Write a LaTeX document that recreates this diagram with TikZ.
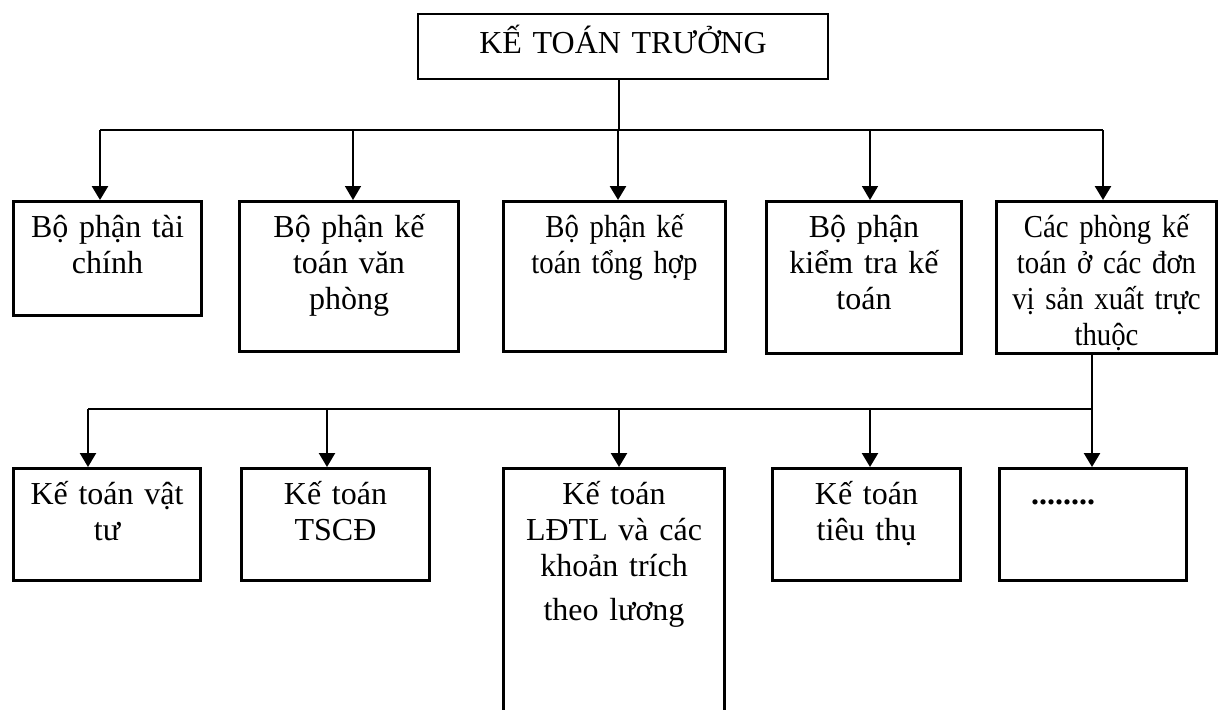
\documentclass[tikz,border=0pt]{standalone}
\usepackage{fontspec}
\setmainfont{Liberation Serif}
\newfontfamily\narrowfont{Liberation Serif}[FakeStretch=0.9]
\usetikzlibrary{arrows.meta}

\begin{document}
\begin{tikzpicture}[x=0.5pt,y=-0.5pt]
   \tikzstyle{every node}=[inner sep=0pt, align=center, font=\fontsize{16pt}{18pt}\selectfont]
   \tikzstyle{unit}=[draw, line width=1.5pt, anchor=north west, text height=17.75pt]
   \tikzstyle{head}=[draw, line width=0.8pt, anchor=north west, text height=19.6pt]
   \tikzstyle{link}=[-{Triangle[width=8pt,length=7pt]}]

   \useasboundingbox (0,0) rectangle (1226,709);

\node[head, text width=205.2pt, text depth=13.1pt] (chief) at (417,13) {KẾ TOÁN TRƯỞNG};

% level 1
\node[unit, text width=94pt, text depth=39.25pt] (finance) at (12,200) {Bộ phận tài\\chính};
\node[unit, text width=109.5pt, text depth=57.25pt] (office) at (238,200) {Bộ phận kế\\toán văn\\phòng};
\node[unit, text width=111pt, text depth=57.25pt, font=\narrowfont\fontsize{16pt}{18pt}\selectfont] (general) at (502,200) {Bộ phận kế\\toán tổng hợp};
\node[unit, text width=97.5pt, text depth=58.25pt] (audit) at (765,200) {Bộ phận\\kiểm tra kế\\toán};
\node[unit, text width=110pt, text depth=58.25pt, font=\narrowfont\fontsize{16pt}{18pt}\selectfont] (units) at (995,200) {Các phòng kế\\toán ở các đơn\\vị sản xuất trực\\thuộc};

% level 2
\node[unit, text width=93.5pt, text depth=38.25pt] (goods) at (12,467) {Kế toán vật\\tư};
\node[unit, text width=94pt, text depth=38.25pt] (assets) at (240,467) {Kế toán\\TSCĐ};
\node[unit, text width=110.5pt, text depth=110pt] (wages) at (502,467) {Kế toán\\LĐTL và các\\khoản trích\\[4pt]theo lương};
\node[unit, text width=94pt, text depth=38.25pt] (sales) at (771,467) {Kế toán\\tiêu thụ};
\node[unit, text width=93.5pt, text depth=38.25pt] (more) at (998,467) {\makebox[62pt][l]{\textbf{........}}};

\coordinate (bus1) at (0,130);
\coordinate (bus2) at (0,409);

\draw[line width=0.7pt] ([xshift=-2pt]chief.south) -- ([xshift=-2pt]chief.south |- bus1);
\draw[line width=0.7pt] ([xshift=-3.75pt]finance.north |- bus1) -- ([xshift=-1.75pt]units.north |- bus1);
\draw[link, line width=1.3pt] ([xshift=-3.75pt]finance.north |- bus1) -- ([xshift=-3.75pt]finance.north);
\draw[link, line width=0.8pt] ([xshift=2pt]office.north |- bus1) -- ([xshift=2pt]office.north);
\draw[link, line width=1.3pt] ([xshift=1.75pt]general.north |- bus1) -- ([xshift=1.75pt]general.north);
\draw[link, line width=0.8pt] ([xshift=3pt]audit.north |- bus1) -- ([xshift=3pt]audit.north);
\draw[link, line width=1.3pt] ([xshift=-1.75pt]units.north |- bus1) -- ([xshift=-1.75pt]units.north);

\draw[link, line width=1.2pt] ([xshift=-7.25pt]units.south) -- ([xshift=-7.25pt]units.south |- more.north);
\draw[line width=1.2pt] ([xshift=-9.5pt]goods.north |- bus2) -- ([xshift=-7.25pt]units.south |- bus2);
\draw[link, line width=1.2pt] ([xshift=-9.5pt]goods.north |- bus2) -- ([xshift=-9.5pt]goods.north);
\draw[link, line width=1.2pt] ([xshift=-4.25pt]assets.north |- bus2) -- ([xshift=-4.25pt]assets.north);
\draw[link, line width=1.2pt] ([xshift=2.5pt]wages.north |- bus2) -- ([xshift=2.5pt]wages.north);
\draw[link, line width=1.2pt] ([xshift=1.75pt]sales.north |- bus2) -- ([xshift=1.75pt]sales.north);

\end{tikzpicture}
\end{document}
